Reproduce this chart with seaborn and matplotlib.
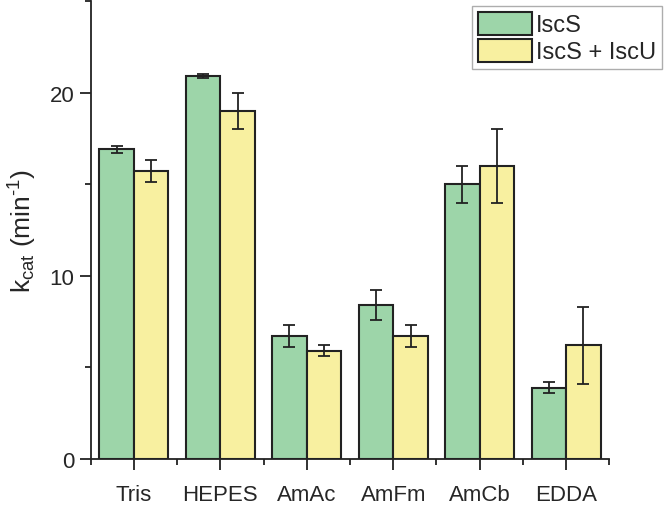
import numpy as np
import pandas as pd
import matplotlib
matplotlib.use("Agg")
import matplotlib.pyplot as plt
from matplotlib.ticker import MultipleLocator, FixedLocator
import seaborn as sns

buffers = ["Tris", "HEPES", "AmAc", "AmFm", "AmCb", "EDDA"]
iscs = [16.9, 20.9, 6.7, 8.4, 15.0, 3.9]
iscs_err = [0.2, 0.1, 0.6, 0.8, 1.0, 0.3]
iscs_iscu = [15.7, 19.0, 5.9, 6.7, 16.0, 6.2]
iscs_iscu_err = [0.6, 1.0, 0.3, 0.6, 2.0, 2.1]
groups = ["IscS", "IscS + IscU"]

df = pd.DataFrame({
    "buffer": buffers * 2,
    "kcat": iscs + iscs_iscu,
    "err": iscs_err + iscs_iscu_err,
    "protein": [groups[0]] * len(buffers) + [groups[1]] * len(buffers),
})

sns.set_style("ticks")
plt.rcParams["font.family"] = ["Liberation Sans", "DejaVu Sans"]
plt.rcParams["mathtext.fontset"] = "custom"
plt.rcParams["mathtext.rm"] = "Liberation Sans"
plt.rcParams["mathtext.it"] = "Liberation Sans"

fig = plt.figure(figsize=(6.66, 5.06), dpi=100)
ax = fig.add_axes([0.136, 0.091, 0.779, 0.905])

colors = ["#9dd5a9", "#f8f0a0"]
sns.barplot(data=df, x="buffer", y="kcat", hue="protein", palette=colors,
            errorbar=None, width=0.8, edgecolor="#222222", linewidth=1.5,
            saturation=1, ax=ax)

# error bars on top of each bar
errs = [iscs_err, iscs_iscu_err]
for cont, e in zip(ax.containers, errs):
    xs = [p.get_x() + p.get_width() / 2 for p in cont.patches]
    ys = [p.get_height() for p in cont.patches]
    ax.errorbar(xs, ys, yerr=e, fmt="none", ecolor="#222222",
                elinewidth=1.3, capsize=4, capthick=1.3)

ax.set_xlim(-0.5, 5.5)
ax.set_ylim(0, 25)
ax.yaxis.set_major_locator(FixedLocator([0, 10, 20]))
ax.yaxis.set_minor_locator(MultipleLocator(5))
ax.xaxis.set_minor_locator(FixedLocator(np.arange(-0.5, 6, 1)))
ax.tick_params(axis="both", which="major", direction="out", length=8,
               width=1.3, labelsize=16, color="#222222")
ax.tick_params(axis="both", which="minor", direction="out", length=4,
               width=1.3, color="#222222")
ax.tick_params(axis="x", pad=10)
for s in ["left", "bottom"]:
    ax.spines[s].set_linewidth(1.3)
    ax.spines[s].set_color("#222222")
sns.despine(ax=ax)

ax.set_xlabel("")
ax.set_ylabel(r"k$_{\mathrm{cat}}$ (min$^{\text{-1}}$)", fontsize=19, labelpad=8)

leg = ax.legend(loc="upper right", bbox_to_anchor=(1.111, 1.0), fontsize=17,
                frameon=True, fancybox=False, handlelength=2.25,
                handleheight=1.15, handletextpad=0.2, borderpad=0.25,
                labelspacing=0.1, borderaxespad=0.2)
leg.get_frame().set_edgecolor("#999999")
leg.get_frame().set_linewidth(1.0)

fig.savefig("out.png", dpi=100)
